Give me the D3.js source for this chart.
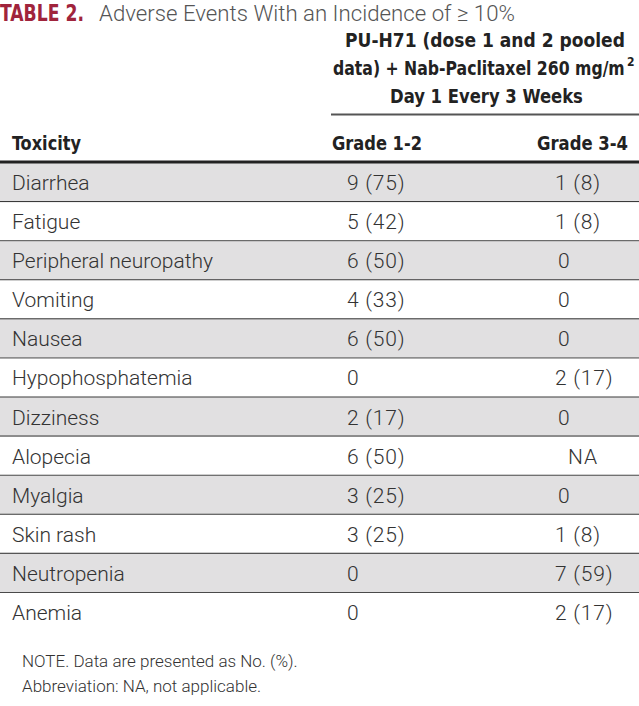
<!DOCTYPE html>
<html>
<head>
    <style>
        body {
            margin: 0;
            padding: 0;
            background: #fff;
        }
        .hd {
            font-family: "Liberation Sans Narrow", "DejaVu Sans Condensed", "Liberation Sans", Arial, sans-serif;
            font-weight: bold;
            fill: #222;
        }
        .bd {
            font-family: Roboto, "Liberation Sans", sans-serif;
            font-weight: 300;
            fill: #333;
        }
        .num {
            letter-spacing: 0.8px;
        }
    </style>
    <script src="https://d3js.org/d3.v7.min.js"></script>
</head>
<body>
<div id="table"></div>
<script>
    // table data
    var toxicities = ["Diarrhea", "Fatigue", "Peripheral neuropathy", "Vomiting", "Nausea",
        "Hypophosphatemia", "Dizziness", "Alopecia", "Myalgia", "Skin rash", "Neutropenia", "Anemia"];
    var grade12 = ["9 (75)", "5 (42)", "6 (50)", "4 (33)", "6 (50)", "0", "2 (17)", "6 (50)", "3 (25)", "3 (25)", "0", "0"];
    var grade34 = ["1 (8)", "1 (8)", "0", "0", "0", "2 (17)", "0", "NA", "0", "1 (8)", "7 (59)", "2 (17)"];
    var columns = ["Toxicity", "Grade 1-2", "Grade 3-4"];
    var groupLines = ["PU-H71 (dose 1 and 2 pooled", "data) + Nab-Paclitaxel 260 mg/m", "Day 1 Every 3 Weeks"];
    var notes = ["NOTE. Data are presented as No. (%).", "Abbreviation: NA, not applicable."];

    var W = 639, H = 706;
    var svg = d3.select("#table").append("svg")
        .attr("width", W)
        .attr("height", H);

    var y = d3.scaleBand().domain(toxicities).range([163, 632]);

    // squeeze a text horizontally to a given width (condensed face look)
    function fit(sel, x, yy, w) {
        var n = sel.node().getComputedTextLength();
        sel.attr("x", 0).attr("y", 0)
            .attr("transform", "translate(" + x + "," + yy + ") scale(" + (w / n) + ",1)");
    }

    // title
    fit(svg.append("text").attr("class", "hd")
        .style("font-size", "23px").style("fill", "#a0243c")
        .text("TABLE 2."), 0, 21, 84);
    fit(svg.append("text").attr("class", "bd")
        .style("font-size", "22px").style("fill", "#555")
        .text("Adverse Events With an Incidence of \u2265 10%"), 99, 21, 416);

    // spanning header, left edges
    var grpLen = [280, 292, 193];
    var grpX = [345, 333, 390];
    groupLines.forEach(function(d, i) {
        fit(svg.append("text").attr("class", "hd grp")
            .style("font-size", "20px")
            .text(d), grpX[i], 47 + i * 28, grpLen[i]);
    });

    // superscript of mg/m2
    svg.append("text").attr("class", "hd")
        .attr("x", 627).attr("y", 66)
        .style("font-size", "12px")
        .text("2");

    svg.append("line")
        .attr("x1", 331).attr("x2", W)
        .attr("y1", 114.5).attr("y2", 114.5)
        .attr("stroke", "#555").attr("stroke-width", 2);

    var colX = [12, 332, 537];
    var colLen = [69, 90, 91];
    columns.forEach(function(d, i) {
        fit(svg.append("text").attr("class", "hd col")
            .style("font-size", "20px")
            .text(d), colX[i], 150, colLen[i]);
    });

    // rows
    var rows = svg.selectAll(".row").data(toxicities).enter().append("g")
        .attr("class", "row")
        .attr("transform", function(d) { return "translate(0," + y(d) + ")"; });

    rows.append("rect")
        .attr("width", W)
        .attr("height", y.bandwidth())
        .attr("fill", function(d, i) { return i % 2 == 0 ? "#e1e0e1" : "#fff"; });

    rows.filter(function(d, i) { return i < toxicities.length - 1; })
        .append("line")
        .attr("x1", 0).attr("x2", W)
        .attr("y1", y.bandwidth()).attr("y2", y.bandwidth())
        .attr("stroke", "#3a3a3a").attr("stroke-width", 2);

    rows.append("text").attr("class", "bd")
        .attr("x", 12).attr("y", 27)
        .style("font-size", "21px")
        .text(function(d) { return d; });

    rows.append("text").attr("class", "bd num")
        .attr("x", 347).attr("y", 27)
        .style("font-size", "21px")
        .text(function(d, i) { return grade12[i]; });

    rows.append("text").attr("class", "bd num")
        .attr("x", function(d, i) { return grade34[i] == "NA" ? 568 : (grade34[i].length > 4 ? 555 : 558); })
        .attr("y", 27)
        .style("font-size", "21px")
        .text(function(d, i) { return grade34[i]; });

    // header rule
    svg.append("line")
        .attr("x1", 0).attr("x2", W)
        .attr("y1", 162).attr("y2", 162)
        .attr("stroke", "#222").attr("stroke-width", 3);

    // notes
    svg.selectAll(".note").data(notes).enter().append("text")
        .attr("class", "bd note")
        .attr("x", 22)
        .attr("y", function(d, i) { return 667 + i * 25; })
        .style("font-size", "17px")
        .text(function(d) { return d; });
</script>
</body>
</html>
